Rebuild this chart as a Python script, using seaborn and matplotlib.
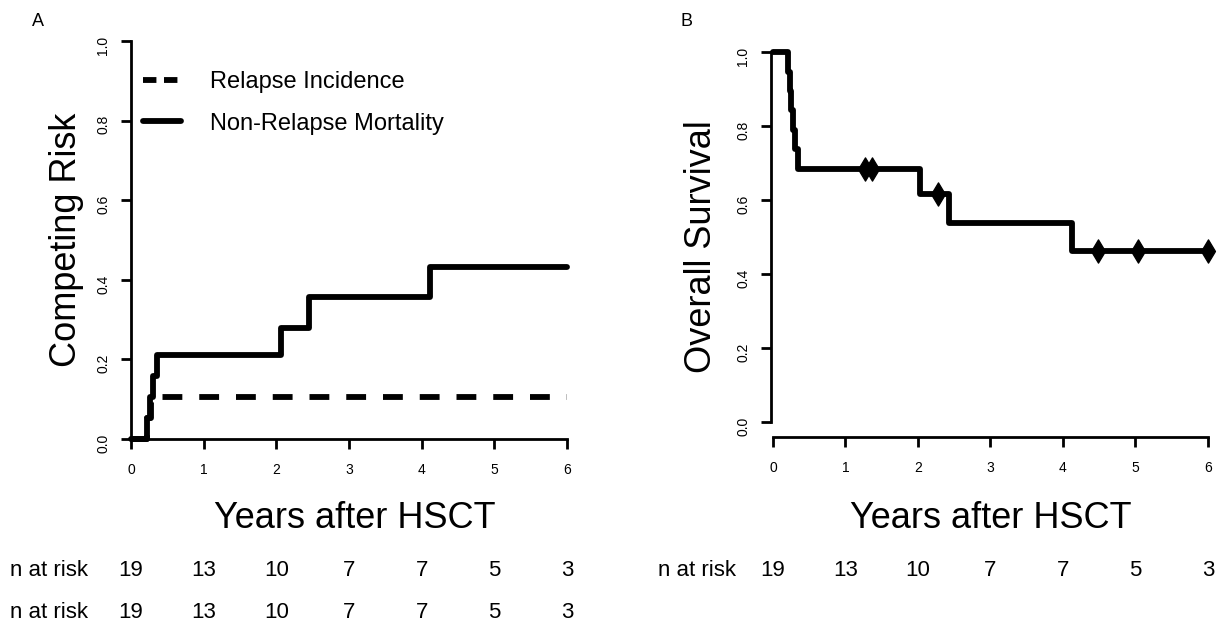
import matplotlib.pyplot as plt
import seaborn as sns
from matplotlib.lines import Line2D
from matplotlib.transforms import blended_transform_factory

# Panel A: cumulative incidence (competing risks)
nrm_time = [0, 0.22, 0.26, 0.30, 0.36, 2.07, 2.45, 4.12, 6.0]
nrm_value = [0, 0.053, 0.105, 0.158, 0.211, 0.279, 0.357, 0.432, 0.432]
relapse_time = [0, 0.22, 0.27, 6.0]
relapse_value = [0, 0.053, 0.105, 0.105]

# Panel B: overall survival (Kaplan-Meier)
os_time = [0, 0.21, 0.23, 0.25, 0.28, 0.31, 0.35, 2.03, 2.43, 4.12, 6.0]
os_value = [1.0, 0.947, 0.895, 0.842, 0.789, 0.737, 0.684, 0.616, 0.539, 0.462, 0.462]
censor_time = [1.27, 1.36, 2.28, 4.48, 5.03, 6.0]
censor_value = [0.684, 0.684, 0.616, 0.462, 0.462, 0.462]

years = [0, 1, 2, 3, 4, 5, 6]
n_at_risk = [19, 13, 10, 7, 7, 5, 3]
yticks = [0.0, 0.2, 0.4, 0.6, 0.8, 1.0]

sns.set_style("ticks")
plt.rcParams['font.family'] = ['Liberation Sans', 'DejaVu Sans']
plt.rcParams['text.color'] = 'black'
plt.rcParams['axes.labelcolor'] = 'black'

W, H = 1218, 626
fig = plt.figure(figsize=(W / 100, H / 100), dpi=100)
ax_a = fig.add_axes([131 / W, 1 - 439 / H, 436 / W, 398 / H])
ax_b = fig.add_axes([773 / W, 1 - 422 / H, 435 / W, 370 / H])

LW = 4.2
line_kw = dict(color='black', lw=LW, drawstyle='steps-post', estimator=None,
               clip_on=False, zorder=3)

sns.lineplot(x=relapse_time, y=relapse_value, ax=ax_a, linestyle=(0, (3.4, 2.9)), **line_kw)
sns.lineplot(x=nrm_time, y=nrm_value, ax=ax_a, **line_kw)
sns.lineplot(x=os_time, y=os_value, ax=ax_b, **line_kw)
sns.scatterplot(x=censor_time, y=censor_value, ax=ax_b, marker='d', s=140,
                color='black', edgecolor='black', clip_on=False, zorder=4)

for ax in (ax_a, ax_b):
    ax.set_xlim(0, 6)
    ax.set_ylim(0, 1)
    ax.set_xticks(years)
    ax.set_xticklabels([str(y) for y in years])
    ax.set_yticks(yticks)
    ax.set_yticklabels([f"{v:.1f}" for v in yticks])
    ax.tick_params(axis='both', direction='out', length=7, width=2.0,
                   labelsize=10, colors='black')
    ax.tick_params(axis='y', labelrotation=90, pad=8)
    ax.tick_params(axis='x', pad=10)
    sns.despine(ax=ax)
    for s in ('left', 'bottom'):
        ax.spines[s].set_linewidth(2.0)
        ax.spines[s].set_color('black')

ax_b.spines['bottom'].set_position(('outward', 11))
ax_b.spines['left'].set_position(('outward', 1.5))

ax_a.set_ylabel("Competing Risk", fontsize=26, va='center')
ax_a.yaxis.set_label_coords(-0.149, 0.50)
ax_b.set_ylabel("Overall Survival", fontsize=26, va='center')
ax_b.yaxis.set_label_coords(-0.165, 0.473)

ax_a.set_xlabel("Years after HSCT", fontsize=26, va='center')
ax_a.xaxis.set_label_coords(0.514, -0.20)
ax_b.set_xlabel("Years after HSCT", fontsize=26, va='center')
ax_b.xaxis.set_label_coords(0.500, -0.262)

# legend for panel A
handles = [Line2D([], [], color='black', lw=LW, linestyle=(0, (2.3, 1.3))),
           Line2D([], [], color='black', lw=LW)]
ax_a.legend(handles, ["Relapse Incidence", "Non-Relapse Mortality"],
            loc='upper left', bbox_to_anchor=(0.028, 0.925), frameon=False,
            fontsize=17, handlelength=1.6, handletextpad=1.25,
            labelspacing=0.84, borderpad=0, borderaxespad=0)

# panel letters
fig.text(38 / W, 1 - 22 / H, "A", fontsize=13, ha='center', va='center')
fig.text(686 / W, 1 - 22 / H, "B", fontsize=13, ha='center', va='center')

# number at risk tables
rows = [(ax_a, 10, [570, 612]), (ax_b, 658, [570])]
for ax, x0, ys in rows:
    tr = blended_transform_factory(ax.transData, fig.transFigure)
    for yy in ys:
        fig.text(x0 / W, 1 - yy / H, "n at risk", fontsize=16, ha='left', va='center')
        for yr, n in zip(years, n_at_risk):
            ax.text(yr, 1 - yy / H, str(n), transform=tr, fontsize=16,
                    ha='center', va='center')

fig.savefig("out.png", dpi=100, facecolor='white')
